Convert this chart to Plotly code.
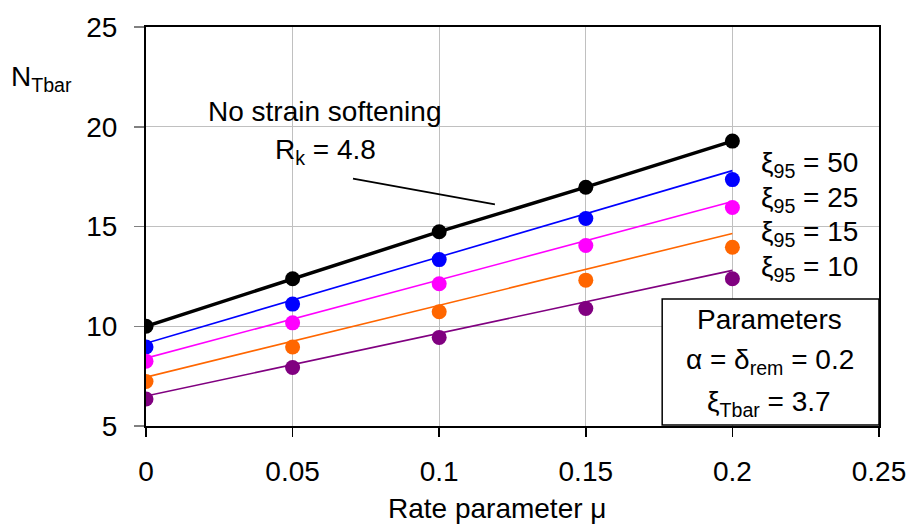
import plotly.graph_objects as go

# ---- data ----
mu = [0, 0.05, 0.1, 0.15, 0.2]
n_no_soft = [10.0, 12.38, 14.74, 16.97, 19.28]      # black, no strain softening
n_xi50 = [8.96, 11.11, 13.34, 15.40, 17.35]        # blue
n_xi25 = [8.25, 10.17, 12.13, 14.05, 15.95]        # magenta
n_xi15 = [7.23, 8.96, 10.73, 12.31, 13.96]         # orange
n_xi10 = [6.35, 7.93, 9.44, 10.89, 12.38]          # purple

fit_x = [0, 0.2]
fit_xi50 = [9.15, 17.8]
fit_xi25 = [8.4, 16.25]
fit_xi15 = [7.45, 14.65]
fit_xi10 = [6.5, 12.8]

series_labels = ["ξ<sub>95</sub> = 50", "ξ<sub>95</sub> = 25", "ξ<sub>95</sub> = 15", "ξ<sub>95</sub> = 10"]
x_ticks = [0, 0.05, 0.1, 0.15, 0.2, 0.25]
x_ticktext = ["0", "0.05", "0.1", "0.15", "0.2", "0.25"]
y_ticks = [5, 10, 15, 20, 25]
y_ticktext = ["5", "10", "15", "20", "25"]

# ---- layout geometry (pixels) ----
W, H = 918, 528
L, R, T, B = 146, 35, 21, 102
PW, PH = W - L - R, H - T - B


def px(x):
    return (x - L) / PW


def py(y):
    return (H - B - y) / PH


FONT = "Liberation Sans, Arial, sans-serif"
FS = 28

colors = ["#0000FF", "#FF00FF", "#FF6600", "#800080"]
fits = [fit_xi50, fit_xi25, fit_xi15, fit_xi10]
pts = [n_xi50, n_xi25, n_xi15, n_xi10]

fig = go.Figure()
for c, f in zip(colors, fits):
    fig.add_trace(go.Scatter(x=fit_x, y=f, mode="lines",
                             line=dict(color=c, width=1.6),
                             showlegend=False, hoverinfo="skip"))
for c, p in zip(colors, pts):
    fig.add_trace(go.Scatter(x=mu, y=p, mode="markers",
                             marker=dict(color=c, size=15, line=dict(width=0)),
                             showlegend=False))
fig.add_trace(go.Scatter(x=mu, y=n_no_soft, mode="lines+markers",
                         line=dict(color="black", width=3.5),
                         marker=dict(color="black", size=15),
                         showlegend=False))

shapes = [
    # white background behind "No strain softening" text
    dict(type="rect", xref="paper", yref="paper",
         x0=px(167), x1=px(481), y0=py(173), y1=py(84),
         fillcolor="white", line=dict(width=0), layer="between"),
    # pointer line
    dict(type="line", xref="x", yref="y",
         x0=0.0706, y0=17.40, x1=0.119, y1=16.11,
         line=dict(color="black", width=2)),
    # parameters box
    dict(type="rect", xref="paper", yref="paper",
         x0=px(665), x1=px(883), y0=py(425), y1=py(297),
         fillcolor="white", line=dict(color="black", width=1.5), layer="above"),
]

ann = []


def add_text(text, x, y, xanchor="center", size=FS):
    ann.append(dict(text=text, xref="paper", yref="paper", x=px(x), y=py(y),
                    xanchor=xanchor, yanchor="middle", showarrow=False,
                    font=dict(family=FONT, size=size, color="black")))


add_text("No strain softening", 325, 107)
add_text("R<sub>k</sub> = 4.8", 326, 147)
for lab, yy in zip(series_labels, [158, 193, 228, 263]):
    add_text(lab, 762, yy + 3, xanchor="left")
add_text("Parameters", 773, 318)
add_text("α = δ<sub>rem</sub> = 0.2", 773, 361)
add_text("ξ<sub>Tbar</sub> = 3.7", 772, 403)
add_text("N<sub>Tbar</sub>", 8, 73, xanchor="left")
add_text("Rate parameter μ", 499, 510)

fig.update_layout(
    width=W, height=H,
    margin=dict(l=L, r=R, t=T, b=B, pad=0),
    paper_bgcolor="white", plot_bgcolor="white",
    font=dict(family=FONT, size=FS, color="black"),
    shapes=shapes, annotations=ann,
    xaxis=dict(range=[0, 0.25], tickvals=x_ticks, ticktext=x_ticktext,
               showgrid=True, gridcolor="#c0c0c0", gridwidth=1,
               showline=True, linecolor="black", linewidth=2, mirror=True,
               ticks="outside", ticklen=9, tickwidth=1.5, tickcolor="black",
               ticklabelstandoff=10, zeroline=False,
               tickfont=dict(family=FONT, size=FS)),
    yaxis=dict(range=[5, 25], tickvals=y_ticks, ticktext=y_ticktext,
               showgrid=True, gridcolor="#c0c0c0", gridwidth=1,
               showline=True, linecolor="black", linewidth=2, mirror=True,
               ticks="outside", ticklen=10, tickwidth=1.5, tickcolor="#808080",
               ticklabelstandoff=11, zeroline=False,
               tickfont=dict(family=FONT, size=FS)),
)

post = ("document.documentElement.style.margin='0';"
        "document.documentElement.style.padding='0';"
        "document.body.style.margin='0';document.body.style.padding='0';"
        "document.body.style.overflow='hidden';")
fig.write_html("out.html", post_script=post,
               config={"displayModeBar": False, "staticPlot": True})
